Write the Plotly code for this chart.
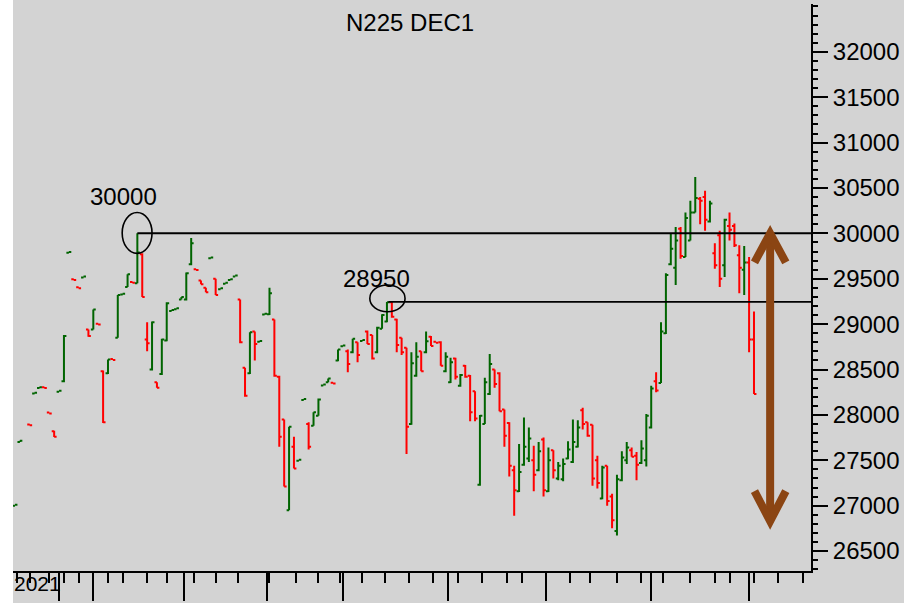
import plotly.graph_objects as go

# ---------------- data (daily OHLC, N225 DEC1 futures) ----------------
opens = [27000, 27700, None, 27895, 28235, 28295, 28305, 28025, 27820, 28255,
         28370, 29785, 29495, 29405, 29515, 28940, 28940, 29005, 28480, 28460,
         28615, 28850, 29325, 29410, 29465, 29450, 29770, 28830, 28500, 28360,
         28450, 28820, 29145, 29165, 29270, 29270, 29660, 29605, 29480, 29400,
         29725, 29500, 29385, 29445, 29485, 29525, 29270, 28520, 28460, 28920,
         28805, 29105, 29110, 29050, 28420, 27950, 26950, 27650, 27495, 28165,
         27900, 27880, 27990, 28325, 28360, 28355, 28600, 28755, 28700, 28690,
         28800, 28815, 28920, 28880, 28690, 28950, 29030, 29240, 29050, 28850,
         28740, 27900, 28430, 28700, 28690, 28860, 28805, 28800, 28480, 28360,
         28620, 28320, 28540, 28430, 28260, 27230, 27900, 28230, 28500, 28460,
         28060, 27910, 27390, 27160, 27450, 27520, 27500, 27390, 27730, 27160,
         27610, 27300, 27290, 27520, 27480, 27650, 28050, 27920, 27890, 27500,
         27080, 27440, 27100, 26720, 27280, 27500, 27610, 27550, 27470, 27500,
         27860, 28370, 28350, 28900, 29660, 29620, 30050, 29740, 29920, 30230,
         30380, 30400, 30130, 29780, 29980, 29650, 30080, 30080, 29760, 29600,
         29680, 28830]
highs = [27010, 27715, None, 27895, 28245, 28305, 28305, 28025, 27825, 28265,
         28880, 29795, 29495, 29405, 29525, 28940, 29160, 29005, 28490, 28610,
         28615, 29320, 29335, 29550, 29465, 30000, 29780, 29020, 29030, 28360,
         28840, 29240, 29155, 29175, 29300, 29570, 29950, 29605, 29480, 29400,
         29735, 29500, 29395, 29455, 29495, 29535, 29270, 28520, 28910, 28920,
         28815, 29115, 29400, 29050, 28430, 27950, 27870, 27760, 27505, 28175,
         27920, 28030, 28180, 28335, 28400, 28355, 28720, 28765, 28720, 28840,
         28800, 28825, 28930, 28880, 28970, 29110, 29245, 29245, 29060, 28850,
         28740, 28690, 28800, 28700, 28920, 28870, 28805, 28810, 28690, 28630,
         28630, 28450, 28550, 28440, 28260, 28000, 28410, 28670, 28500, 28470,
         28060, 27920, 27440, 27680, 27970, 27860, 27660, 27700, 27750, 27640,
         27610, 27480, 27520, 27710, 27950, 27940, 28080, 27920, 27890, 27550,
         27440, 27440, 27130, 27340, 27600, 27700, 27640, 27590, 27720, 28010,
         28320, 28470, 29020, 29560, 30000, 30070, 30070, 30230, 30360, 30620,
         30400, 30470, 30360, 29890, 30030, 30160, 30230, 30110, 29870, 29860,
         29740, 29140]
lows = [27000, 27700, None, 27885, 28235, 28295, 28295, 28015, 27755, 28255,
        28360, 29785, 29485, 29395, 29515, 28860, 28940, 28995, 27910, 28450,
        28605, 28850, 29325, 29410, 29455, 29450, 29300, 28700, 28490, 28300,
        28440, 28810, 29145, 29165, 29270, 29260, 29650, 29595, 29440, 29350,
        29725, 29320, 29385, 29445, 29485, 29525, 28790, 28200, 28450, 28600,
        28805, 29105, 29100, 28420, 27650, 27210, 26950, 27410, 27495, 28165,
        27620, 27880, 27990, 28325, 28360, 28345, 28590, 28755, 28470, 28680,
        28580, 28815, 28780, 28610, 28680, 28950, 29020, 29070, 28690, 28660,
        27570, 27890, 28420, 28480, 28680, 28760, 28795, 28540, 28470, 28350,
        28390, 28310, 28410, 27930, 27930, 27220, 27900, 28220, 28300, 28040,
        27650, 27320, 26890, 27150, 27440, 27480, 27160, 27380, 27100, 27150,
        27300, 27280, 27270, 27510, 27470, 27640, 27840, 27760, 27220, 27190,
        27070, 27000, 26750, 26670, 27270, 27460, 27540, 27280, 27460, 27430,
        27850, 28250, 28350, 28890, 29650, 29430, 29720, 29740, 29920, 30230,
        30100, 30030, 30120, 29610, 29410, 29520, 29920, 29850, 29340, 29320,
        28690, 28230]
closes = [27010, 27715, None, 27885, 28245, 28305, 28295, 28015, 27760, 28265,
          28870, 29795, 29485, 29395, 29525, 28870, 29160, 28995, 27920, 28610,
          28605, 29320, 29335, 29550, 29455, 29790, 29300, 28790, 29020, 28300,
          28830, 29230, 29155, 29175, 29300, 29560, 29890, 29595, 29440, 29350,
          29735, 29320, 29395, 29455, 29495, 29535, 28800, 28210, 28910, 28780,
          28815, 29115, 29340, 28430, 27760, 27210, 27870, 27410, 27505, 28175,
          27650, 28030, 28170, 28335, 28400, 28345, 28720, 28765, 28560, 28840,
          28660, 28825, 28780, 28620, 28960, 29100, 29240, 29080, 28770, 28690,
          27870, 28570, 28640, 28480, 28810, 28760, 28795, 28540, 28640, 28580,
          28420, 28440, 28420, 28030, 27960, 27990, 28360, 28560, 28340, 28040,
          27770, 27440, 27170, 27370, 27650, 27740, 27340, 27600, 27170, 27500,
          27390, 27440, 27460, 27620, 27700, 27860, 27900, 27770, 27300, 27250,
          27420, 27050, 26840, 27290, 27530, 27640, 27540, 27450, 27630, 27990,
          28290, 28270, 28920, 29540, 29830, 29920, 29750, 30170, 30230, 30390,
          30360, 30150, 30330, 29650, 29500, 30150, 30040, 29870, 29620, 29680,
          28830, 28230]

# axis ticks (bar index positions of month starts and week starts)
month_ticks = [9, 16, 34.5, 51.5, 67, 88.5, 108.5, 130, 150]
week_ticks = [0.5, 3, 7, 10, 13, 19, 22, 27, 31, 36.5, 41, 45.5, 52, 57.5, 62,
              66.5, 71, 75.5, 80.5, 85.5, 90.5, 95.5, 100.5, 103.5, 113.5, 117.5,
              123, 128, 132.5, 138, 143, 146, 151, 156, 161]
price_ticks = list(range(26500, 32001, 500))

# annotated levels
high1_idx, high1_val, high1_label = 25, 30000, "30000"
high2_idx, high2_val, high2_label = 76, 29245, "28950"
arrow_top, arrow_bottom = 30000, 26830

x = list(range(len(opens)))

GREEN = "#006400"
RED = "#ff0000"
BROWN = "#8b4513"
FONT = "Liberation Sans, Arial, sans-serif"

fig = go.Figure(go.Ohlc(
    x=x, open=opens, high=highs, low=lows, close=closes,
    increasing=dict(line=dict(color=GREEN, width=2)),
    decreasing=dict(line=dict(color=RED, width=2)),
    tickwidth=0.5, showlegend=False, hoverinfo="skip"))

XMAX = 162.65
shapes = []
# left white strip
shapes.append(dict(type="rect", xref="paper", yref="paper", x0=-0.02, x1=0,
                   y0=-0.1, y1=1.02, fillcolor="white", line=dict(width=0),
                   layer="below"))
# horizontal level lines
shapes.append(dict(type="line", xref="x", yref="y", x0=high1_idx, x1=XMAX,
                   y0=high1_val, y1=high1_val, line=dict(color="black", width=2)))
shapes.append(dict(type="line", xref="x", yref="y", x0=high2_idx + 0.3, x1=XMAX,
                   y0=high2_val, y1=high2_val, line=dict(color="black", width=1.6)))
# ellipses
shapes.append(dict(type="circle", xref="x", yref="y", x0=high1_idx - 3.1,
                   x1=high1_idx + 3.0, y0=29780, y1=30230,
                   line=dict(color="black", width=1.6)))
shapes.append(dict(type="circle", xref="x", yref="y", x0=high2_idx - 3.5,
                   x1=high2_idx + 3.7, y0=29136, y1=29431,
                   line=dict(color="black", width=1.6)))
# brown double arrow
ax = 154.3
dx = 3.2
shapes.append(dict(type="line", xref="x", yref="y", x0=ax, x1=ax,
                   y0=arrow_top - 60, y1=arrow_bottom + 60,
                   line=dict(color=BROWN, width=8)))
shapes.append(dict(type="path", xref="x", yref="y",
                   path=f"M {ax-dx},{arrow_top-320} L {ax},{arrow_top} L {ax+dx},{arrow_top-320}",
                   line=dict(color=BROWN, width=8)))
shapes.append(dict(type="path", xref="x", yref="y",
                   path=f"M {ax-dx},{arrow_bottom+330} L {ax},{arrow_bottom} L {ax+dx},{arrow_bottom+330}",
                   line=dict(color=BROWN, width=8)))

TXT = dict(size=24, color="black", family=FONT)
annotations = [
    dict(text="N225 DEC1", xref="paper", yref="paper", x=0.497, y=0.968,
         xanchor="center", yanchor="middle", showarrow=False, font=TXT),
    dict(text=high1_label, xref="x", yref="y", x=22.2, y=30405,
         xanchor="center", yanchor="middle", showarrow=False, font=TXT),
    dict(text=high2_label, xref="x", yref="y", x=73.9, y=29508,
         xanchor="center", yanchor="middle", showarrow=False, font=TXT),
    dict(text="2021", xref="paper", yref="paper", x=-0.001, y=-0.046,
         xanchor="left", yanchor="bottom", showarrow=False,
         font=dict(size=21, color="black", family=FONT)),
]

fig.update_layout(
    width=904, height=603,
    margin=dict(l=13, r=92, t=4, b=28),
    paper_bgcolor="#d3d3d3", plot_bgcolor="#d3d3d3",
    font=dict(family=FONT, size=24, color="black"),
    shapes=shapes, annotations=annotations,
    xaxis=dict(range=[-0.41, XMAX], showgrid=False, zeroline=False,
               rangeslider=dict(visible=False),
               showline=True, linecolor="black", linewidth=2,
               tickmode="array", tickvals=month_ticks, showticklabels=False,
               ticks="outside", ticklen=28, tickwidth=1.5, tickcolor="black",
               minor=dict(tickmode="array", tickvals=week_ticks, ticks="outside",
                          ticklen=10, tickwidth=1.5, tickcolor="black")),
    yaxis=dict(range=[26280, 32527], side="right", showgrid=False, zeroline=False,
               showline=True, linecolor="black", linewidth=2,
               tickmode="array", tickvals=price_ticks,
               ticktext=[str(v) for v in price_ticks],
               ticks="outside", ticklen=15, tickwidth=1.5, tickcolor="black",
               tickfont=dict(size=24, family=FONT),
               minor=dict(dtick=100, tick0=26500, ticks="outside", ticklen=5,
                          tickwidth=1.5, tickcolor="black")),
)

fig.write_html(
    "out.html",
    config={"displayModeBar": False},
    post_script="document.body.style.margin='0';document.body.style.overflow='hidden';",
)
